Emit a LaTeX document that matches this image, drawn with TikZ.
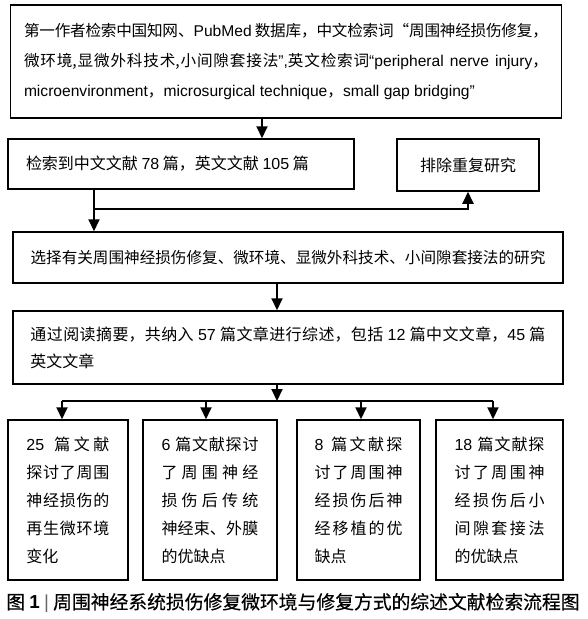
\documentclass[tikz,border=0pt]{standalone}
\usepackage{fontspec}
\setmainfont{Noto Sans CJK SC}
\newfontfamily\en{Liberation Sans}
\newfontfamily\capfont[FakeBold=0.4]{Noto Sans CJK SC}
\XeTeXlinebreaklocale "zh"
\XeTeXlinebreakskip=0pt plus 1pt minus 0.6pt
\hyphenpenalty=10000
\exhyphenpenalty=10000
\usetikzlibrary{arrows.meta}

\begin{document}
\begin{tikzpicture}[x=1pt,y=-1pt,
    box/.style={draw, line width=1.5pt, inner sep=0pt, align=justify, font=\fontsize{16}{30}\selectfont},
    smallbox/.style={box, minimum height=160pt, font=\fontsize{16}{28}\selectfont},
    arr/.style={line width=2pt, -{Triangle[width=11pt,length=12pt]}},
    link/.style={line width=2pt}]
  \useasboundingbox (0,0) rectangle (587,619);
  % search and counts
  \node[box, minimum width=551pt, minimum height=113pt, text width=524pt, font=\fontsize{15.6}{30}\selectfont] (search) at (286,61.5)
    {第一作者检索中国知网、{\en PubMed} 数据库，中文检索词“周围神经损伤修复，\linebreak
     微环境,显微外科技术,小间隙套接法{\en ”,}英文检索词{\en “peripheral nerve injury}，\linebreak
     {\en microenvironment}，{\en microsurgical technique}，{\en small gap bridging”}};
  \node[box, minimum width=346pt, minimum height=50pt, text width=310pt] (found) at (181,164)
    {检索到中文文献 {\en 78} 篇，英文文献 {\en 105} 篇};
  \node[box, align=center, minimum width=142pt, minimum height=52pt] (exclude) at (468,165) {排除重复研究};
  % selection
  \node[box, align=center, minimum width=550pt, minimum height=51pt, font=\fontsize{15.6}{30}\selectfont] (select) at (288,257.5)
    {选择有关周围神经损伤修复、微环境、显微外科技术、小间隙套接法的研究};
  \node[box, minimum width=550pt, minimum height=73pt, text width=515pt, font=\fontsize{16}{27}\selectfont] (review) at (288,347.5)
    {通过阅读摘要，共纳入 {\en 57} 篇文章进行综述，包括 {\en 12} 篇中文文章，{\en 45} 篇\linebreak 英文文章};
  % four topics
  \node[smallbox, minimum width=120pt, text width=83pt] (boxA) at (68,500)
    {{\en 25} 篇文献\linebreak 探讨了周围\linebreak 神经损伤的\linebreak 再生微环境\linebreak 变化};
  \node[smallbox, minimum width=134pt, text width=97pt] (boxB) at (210,500)
    {{\en 6} 篇文献探讨\linebreak 了周围神经\linebreak 损伤后传统\linebreak 神经束、外膜\linebreak 的优缺点};
  \node[smallbox, minimum width=123pt, text width=88pt] (boxC) at (358.5,500)
    {{\en 8} 篇文献探\linebreak 讨了周围神\linebreak 经损伤后神\linebreak 经移植的优\linebreak 缺点};
  \node[smallbox, minimum width=127pt, text width=90pt] (boxD) at (499.5,500)
    {{\en 18} 篇文献探\linebreak 讨了周围神\linebreak 经损伤后小\linebreak 间隙套接法\linebreak 的优缺点};
  \node[inner sep=0pt, font=\capfont\fontsize{18.8}{20}\selectfont] (caption) at (293,603)
    {图 {\en\bfseries 1} {\en\color{black!60}|} 周围神经系统损伤修复微环境与修复方式的综述文献检索流程图};
  % connectors
  \coordinate (split) at (94,209);
  \coordinate (bus) at (277,401);
  \draw[arr] (search.south -| 262,0) -- (found.north -| 262,0);
  \draw[arr] (found.south -| split) -- (select.north -| split);
  \draw[arr] (split) -| (exclude.south);
  \draw[arr] (select.south -| bus) -- (review.north -| bus);
  \draw[arr] (review.south -| bus) -- (bus);
  \draw[link] (62,401) -- (493,401);
  \foreach \b/\x in {boxA/62,boxB/206,boxC/361,boxD/493}
    \draw[arr] (bus -| \x,0) -- (\b.north -| \x,0);
\end{tikzpicture}
\end{document}
